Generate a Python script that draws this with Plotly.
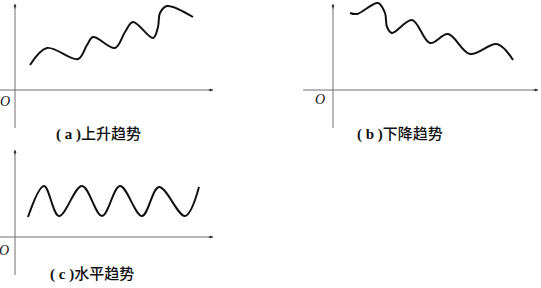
import plotly.graph_objects as go

W, H = 541, 288

# Panel (a) upward trend: time vs value (origin at axes crossing)
up_t = [15, 32, 63, 72, 78, 100, 110, 118, 138, 143, 145, 152, 178]
up_v = [25, 42, 31, 45, 53, 42, 58, 68, 52, 63, 77, 84, 73]

# Panel (b) downward trend
down_t = [17, 24, 45, 52, 54, 59, 79, 97, 115, 137, 164, 180]
down_v = [77, 76, 87, 77, 63, 57, 70, 47, 56, 36, 46, 30]

# Panel (c) horizontal trend
flat_t = [13, 29, 44, 67, 87, 105, 127, 144, 170, 184]
flat_v = [20, 51, 21, 51, 21, 51, 21, 50, 21, 50]

tags = ["(a)", "(b)", "(c)"]
names = ["上升趋势", "下降趋势", "水平趋势"]
origin_label = "O"

def px_x(p):
    return p / W

def px_y(p):
    return 1 - p / H

# xd/yd: pixel box of subplot; xr/yr: data range; ax_top: top end of vertical axis (data)
panels = [
    dict(t=up_t, v=up_v, xd=(0, 213), yd=(0, 128), xr=(-15, 198), yr=(-38, 90), ax_top=86,
         o=(-10, -11), lab=(98, 134)),
    dict(t=down_t, v=down_v, xd=(303, 538), yd=(0, 128), xr=(-30, 205), yr=(-38, 90), ax_top=86,
         o=(-13, -9), lab=(400, 134)),
    dict(t=flat_t, v=flat_v, xd=(0, 213), yd=(146, 275), xr=(-15, 198), yr=(-38, 91), ax_top=87,
         o=(-11, -13), lab=(92, 274)),
]

fig = go.Figure()
annotations = []
shapes = []
axis_color = "#707070"
for i, p in enumerate(panels):
    n = "" if i == 0 else str(i + 1)
    xa, ya = "x" + n, "y" + n
    fig.add_trace(go.Scatter(
        x=p["t"], y=p["v"], mode="lines", xaxis=xa, yaxis=ya,
        line=dict(color="#111111", width=2, shape="spline", smoothing=1.0),
        showlegend=False, hoverinfo="skip"))
    axcfg = dict(showgrid=False, showticklabels=False, ticks="", showline=False,
                 zeroline=False, fixedrange=True)
    fig.layout["xaxis" + n] = dict(axcfg, domain=[px_x(p["xd"][0]), px_x(p["xd"][1])],
                                   range=list(p["xr"]), anchor=ya)
    fig.layout["yaxis" + n] = dict(axcfg, domain=[px_y(p["yd"][1]), px_y(p["yd"][0])],
                                   range=list(p["yr"]), anchor=xa)
    # axes lines
    shapes.append(dict(type="line", xref=xa, yref=ya, x0=p["xr"][0], x1=p["xr"][1], y0=0, y1=0,
                       line=dict(color=axis_color, width=1), layer="below"))
    shapes.append(dict(type="line", xref=xa, yref=ya, x0=0, x1=0, y0=p["yr"][0], y1=p["ax_top"],
                       line=dict(color=axis_color, width=1), layer="below"))
    # arrowheads
    annotations.append(dict(x=p["xr"][1], y=0, ax=p["xr"][1] - 6, ay=0, xref=xa, yref=ya,
                            axref=xa, ayref=ya, showarrow=True, arrowhead=2, arrowsize=0.6,
                            arrowwidth=1, arrowcolor="#333333", text=""))
    annotations.append(dict(x=0, y=p["ax_top"], ax=0, ay=p["ax_top"] - 6, xref=xa, yref=ya,
                            axref=xa, ayref=ya, showarrow=True, arrowhead=2, arrowsize=0.6,
                            arrowwidth=1, arrowcolor="#333333", text=""))
    annotations.append(dict(x=p["o"][0], y=p["o"][1], xref=xa, yref=ya, text=origin_label,
                            showarrow=False, xanchor="center", yanchor="middle",
                            font=dict(family="Liberation Serif", size=14, color="#111111",
                                      style="italic")))
    label = "<b>" + tags[i].replace("(", "( ").replace(")", " )") + "</b>" + names[i]
    annotations.append(dict(x=px_x(p["lab"][0]), y=px_y(p["lab"][1]), xref="paper", yref="paper",
                            text=label, showarrow=False, xanchor="center", yanchor="middle",
                            font=dict(family="Liberation Serif, Noto Sans CJK SC", size=15,
                                      color="#111111", weight=500)))

fig.update_layout(width=W, height=H, margin=dict(l=0, r=0, t=0, b=0),
                  paper_bgcolor="white", plot_bgcolor="white",
                  annotations=annotations, shapes=shapes, showlegend=False)

fig.write_html("out.html", config=dict(displayModeBar=False))
